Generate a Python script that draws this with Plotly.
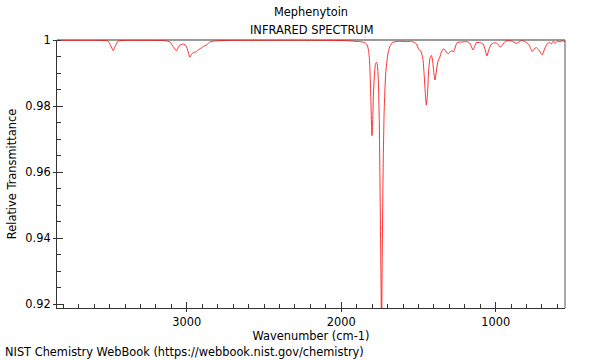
import plotly.graph_objects as go

# Spectrum (wavenumber in cm-1, relative transmittance)
wavenumber = [3841, 3563, 3511, 3495, 3477, 3463, 3445, 3401, 3142, 3110,
              3089, 3067, 3049, 3026, 3010, 2997, 2981, 2968, 2955, 2937,
              2926, 2916, 2894, 2872, 2851, 2819, 2722, 2074, 1977, 1880,
              1848, 1832, 1822, 1816, 1809, 1804, 1801, 1797, 1792, 1784,
              1777, 1772, 1767, 1760, 1754, 1748, 1742, 1739, 1735, 1728,
              1722, 1712, 1699, 1686, 1667, 1621, 1576, 1544, 1513, 1498,
              1485, 1472, 1463, 1455, 1449, 1442, 1434, 1424, 1416, 1409,
              1401, 1393, 1385, 1375, 1362, 1351, 1339, 1330, 1317, 1304,
              1294, 1284, 1271, 1261, 1250, 1220, 1188, 1168, 1147, 1125,
              1103, 1082, 1068, 1056, 1045, 1027, 1013, 993, 970, 955,
              935, 896, 866, 833, 806, 783, 764, 751, 737, 721,
              699, 683, 667, 650, 639, 629, 612, 599, 583, 570, 553]
transmittance = [0.9999, 0.9999, 0.9997, 0.9985, 0.9968, 0.9982, 0.9997, 0.9999, 0.9998, 0.9994,
                 0.9980, 0.9968, 0.9983, 0.9988, 0.9985, 0.9973, 0.9948, 0.9958, 0.9962, 0.9965,
                 0.9970, 0.9973, 0.9980, 0.9985, 0.9994, 0.9997, 0.9999, 0.9999, 0.9998, 0.9995,
                 0.9992, 0.9985, 0.9964, 0.9930, 0.9833, 0.9742, 0.9710, 0.9742, 0.9833, 0.9903,
                 0.9930, 0.9932, 0.9927, 0.9879, 0.9758, 0.9515, 0.9242, 0.9080, 0.9333, 0.9636,
                 0.9788, 0.9900, 0.9955, 0.9980, 0.9993, 0.9996, 0.9995, 0.9996, 0.9988, 0.9971,
                 0.9967, 0.9945, 0.9894, 0.9833, 0.9803, 0.9833, 0.9909, 0.9948, 0.9953, 0.9939,
                 0.9903, 0.9879, 0.9903, 0.9933, 0.9948, 0.9964, 0.9973, 0.9971, 0.9962, 0.9959,
                 0.9965, 0.9967, 0.9965, 0.9979, 0.9992, 0.9994, 0.9995, 0.9991, 0.9970, 0.9992,
                 0.9992, 0.9988, 0.9970, 0.9952, 0.9970, 0.9988, 0.9991, 0.9991, 0.9978, 0.9986,
                 0.9997, 0.9997, 0.9990, 0.9998, 0.9994, 0.9985, 0.9965, 0.9973, 0.9977, 0.9970,
                 0.9955, 0.9973, 0.9988, 0.9993, 0.9988, 0.9996, 0.9991, 0.9997, 0.9994, 0.9998, 0.9995]

x_ticks = [3000, 2000, 1000]
x_tick_labels = ["3000", "2000", "1000"]
y_ticks = [0.92, 0.94, 0.96, 0.98, 1.0]
y_tick_labels = ["0.92", "0.94", "0.96", "0.98", "1"]
x_range = [3841, 551]
y_range = [0.9188, 1.0]

FONT = "DejaVu Sans"
FS = 11.4

fig = go.Figure()
fig.add_trace(go.Scatter(
    x=wavenumber, y=transmittance, mode="lines",
    line=dict(color="rgba(255,0,0,0.8)", width=1, shape="spline", smoothing=0.5),
    showlegend=False, hoverinfo="skip"))
# empty trace to materialise the overlay axes carrying inner major ticks
fig.add_trace(go.Scatter(x=[], y=[], xaxis="x2", yaxis="y2", showlegend=False))

axis_common = dict(showgrid=False, zeroline=False, automargin=False)
fig.update_layout(
    width=600, height=360,
    margin=dict(l=57, r=35, t=40, b=52),
    paper_bgcolor="white", plot_bgcolor="white",
    font=dict(family=FONT, size=FS, color="#000"),
    xaxis=dict(**axis_common, range=x_range, tickmode="array", tickvals=x_ticks,
               ticktext=x_tick_labels, ticks="outside", ticklen=3, tickcolor="#333",
               showline=True, linecolor="#333", linewidth=1,
               minor=dict(ticks="inside", dtick=100, tick0=0, ticklen=4, tickcolor="#333"),
               title=dict(text="Wavenumber (cm-1)", standoff=2, font=dict(size=FS))),
    yaxis=dict(**axis_common, range=y_range, tickmode="array", tickvals=y_ticks,
               ticktext=y_tick_labels, ticks="outside", ticklen=3, tickcolor="#333",
               showline=True, linecolor="#333", linewidth=1,
               minor=dict(ticks="inside", dtick=0.005, tick0=0, ticklen=4, tickcolor="#333"),
               title=dict(text="Relative Transmittance", standoff=6, font=dict(size=FS))),
    xaxis2=dict(**axis_common, overlaying="x", range=x_range, tickmode="array",
                tickvals=x_ticks, ticks="inside", ticklen=6, tickcolor="#333",
                showticklabels=False, showline=False, anchor="y2"),
    yaxis2=dict(**axis_common, overlaying="y", range=y_range, tickmode="array",
                tickvals=y_ticks, ticks="inside", ticklen=6, tickcolor="#333",
                showticklabels=False, showline=False, anchor="x2"),
    shapes=[
        dict(type="line", xref="paper", yref="paper", x0=0, x1=1, y0=1, y1=1,
             line=dict(color="#9a9a9a", width=2), layer="below"),
        dict(type="line", xref="paper", yref="paper", x0=1, x1=1, y0=0, y1=1,
             line=dict(color="#555", width=1)),
    ],
    annotations=[
        dict(text="Mephenytoin", xref="paper", yref="paper", x=0.5, y=1.1045,
             xanchor="center", yanchor="middle", showarrow=False, font=dict(size=FS)),
        dict(text="INFRARED SPECTRUM", xref="paper", yref="paper", x=0.5, y=1.037,
             xanchor="center", yanchor="middle", showarrow=False, font=dict(size=FS)),
        dict(text="NIST Chemistry WebBook (https://webbook.nist.gov/chemistry)",
             xref="paper", yref="paper", x=-0.1063, y=-0.164,
             xanchor="left", yanchor="middle", showarrow=False, font=dict(size=FS)),
    ],
)

fig.write_html("out.html", config={"displayModeBar": False},
               post_script="document.body.style.margin='0';document.body.style.padding='0';")
